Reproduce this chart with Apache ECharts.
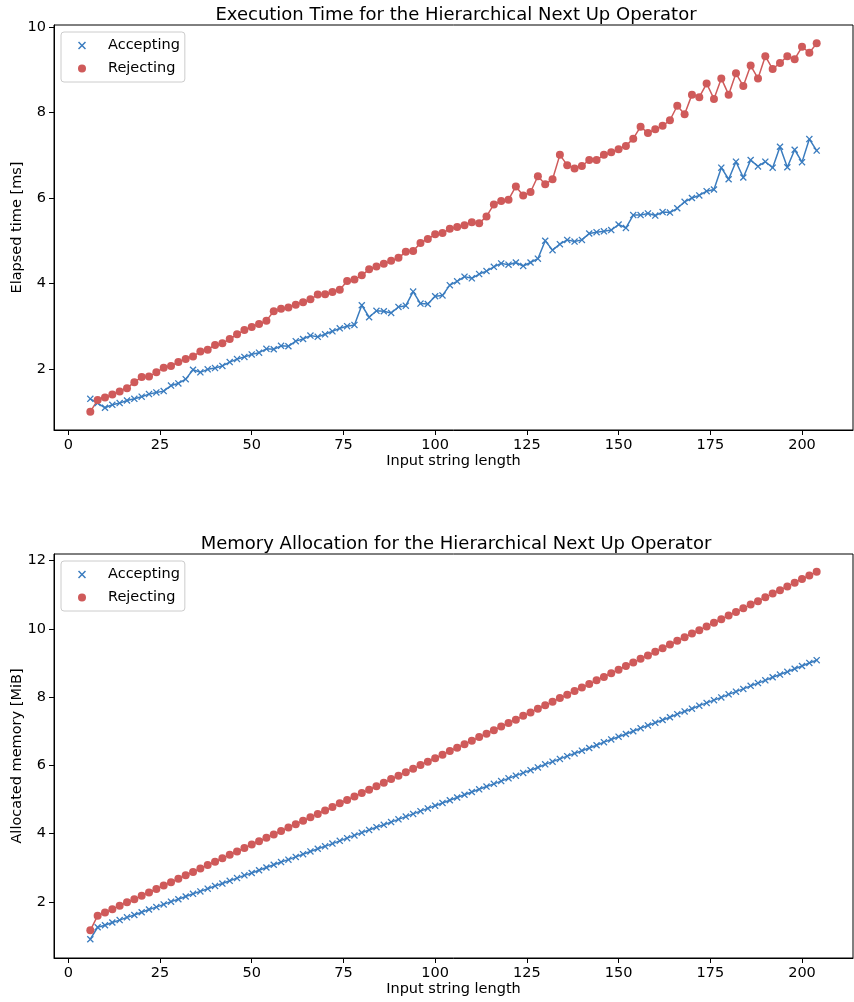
<!DOCTYPE html>
<html>
<head>
<meta charset="utf-8">
<script src="https://cdn.jsdelivr.net/npm/echarts@6/dist/echarts.min.js"></script>
<style>
  html, body { margin: 0; padding: 0; background: #fff; }
  #main { width: 854px; height: 1002px; }
</style>
</head>
<body>
<div id="main"></div>
<script>
// input string length (x)
var inputLength = [
  6, 8, 10, 12, 14, 16, 18, 20, 22, 24, 26, 28, 30, 32, 34, 36, 38, 40, 42, 44,
  46, 48, 50, 52, 54, 56, 58, 60, 62, 64, 66, 68, 70, 72, 74, 76, 78, 80, 82, 84,
  86, 88, 90, 92, 94, 96, 98, 100, 102, 104, 106, 108, 110, 112, 114, 116, 118, 120, 122, 124,
  126, 128, 130, 132, 134, 136, 138, 140, 142, 144, 146, 148, 150, 152, 154, 156, 158, 160, 162, 164,
  166, 168, 170, 172, 174, 176, 178, 180, 182, 184, 186, 188, 190, 192, 194, 196, 198, 200, 202, 204
];

// elapsed time [ms]
var timeAccepting = [
  1.30, 1.20, 1.09, 1.16, 1.20, 1.26, 1.30, 1.35, 1.41, 1.45, 1.48, 1.61, 1.66, 1.76, 1.98, 1.92, 1.99, 2.02, 2.07, 2.16,
  2.23, 2.28, 2.34, 2.38, 2.47, 2.46, 2.54, 2.53, 2.65, 2.70, 2.78, 2.75, 2.81, 2.88, 2.95, 3.00, 3.03, 3.49, 3.21, 3.36,
  3.35, 3.31, 3.45, 3.48, 3.81, 3.53, 3.52, 3.70, 3.72, 3.96, 4.05, 4.16, 4.12, 4.22, 4.29, 4.39, 4.47, 4.44, 4.49, 4.41,
  4.49, 4.58, 5.00, 4.78, 4.92, 5.02, 4.98, 5.02, 5.17, 5.20, 5.22, 5.25, 5.38, 5.30, 5.60, 5.60, 5.64, 5.59, 5.67, 5.66,
  5.76, 5.91, 6.00, 6.06, 6.16, 6.20, 6.71, 6.44, 6.85, 6.48, 6.89, 6.74, 6.85, 6.71, 7.20, 6.72, 7.13, 6.84, 7.38, 7.11
];
var timeRejecting = [
  1.00, 1.27, 1.33, 1.40, 1.47, 1.55, 1.69, 1.81, 1.82, 1.92, 2.03, 2.07, 2.16, 2.23, 2.29, 2.41, 2.45, 2.56, 2.60, 2.70,
  2.81, 2.91, 2.98, 3.05, 3.13, 3.35, 3.41, 3.44, 3.50, 3.56, 3.63, 3.74, 3.75, 3.80, 3.85, 4.06, 4.09, 4.19, 4.33, 4.40,
  4.46, 4.53, 4.60, 4.74, 4.76, 4.95, 5.04, 5.15, 5.18, 5.28, 5.32, 5.36, 5.43, 5.41, 5.57, 5.85, 5.93, 5.96, 6.27, 6.06,
  6.14, 6.51, 6.32, 6.44, 7.01, 6.77, 6.69, 6.75, 6.89, 6.89, 7.01, 7.07, 7.14, 7.22, 7.39, 7.67, 7.52, 7.61, 7.69, 7.82,
  8.16, 7.96, 8.42, 8.36, 8.68, 8.32, 8.80, 8.42, 8.92, 8.62, 9.10, 8.80, 9.32, 9.02, 9.16, 9.32, 9.25, 9.54, 9.40, 9.62
];

// allocated memory [MiB]
var memAccepting = [
  0.91, 1.26, 1.32, 1.40, 1.47, 1.55, 1.62, 1.70, 1.78, 1.85, 1.93, 2.01, 2.08, 2.16, 2.24, 2.31, 2.39, 2.47, 2.54, 2.62,
  2.70, 2.78, 2.85, 2.93, 3.01, 3.09, 3.17, 3.24, 3.32, 3.40, 3.48, 3.56, 3.63, 3.71, 3.79, 3.87, 3.95, 4.03, 4.11, 4.19,
  4.26, 4.34, 4.42, 4.50, 4.58, 4.66, 4.74, 4.82, 4.90, 4.98, 5.06, 5.14, 5.22, 5.30, 5.38, 5.46, 5.54, 5.62, 5.70, 5.78,
  5.86, 5.94, 6.03, 6.11, 6.19, 6.27, 6.35, 6.43, 6.51, 6.59, 6.68, 6.76, 6.84, 6.92, 7.00, 7.09, 7.17, 7.25, 7.33, 7.41,
  7.50, 7.58, 7.66, 7.75, 7.83, 7.91, 7.99, 8.08, 8.16, 8.24, 8.33, 8.41, 8.49, 8.58, 8.66, 8.74, 8.83, 8.91, 9.00, 9.08
];
var memRejecting = [
  1.17, 1.60, 1.69, 1.79, 1.89, 1.99, 2.08, 2.18, 2.28, 2.38, 2.48, 2.58, 2.68, 2.78, 2.88, 2.98, 3.08, 3.18, 3.28, 3.38,
  3.48, 3.58, 3.68, 3.78, 3.88, 3.98, 4.08, 4.18, 4.28, 4.38, 4.48, 4.58, 4.68, 4.78, 4.89, 4.99, 5.09, 5.19, 5.29, 5.39,
  5.49, 5.60, 5.70, 5.80, 5.90, 6.01, 6.11, 6.21, 6.31, 6.42, 6.52, 6.62, 6.72, 6.83, 6.93, 7.03, 7.14, 7.24, 7.34, 7.45,
  7.55, 7.66, 7.76, 7.86, 7.97, 8.07, 8.18, 8.28, 8.38, 8.49, 8.59, 8.70, 8.80, 8.91, 9.01, 9.12, 9.22, 9.33, 9.43, 9.54,
  9.65, 9.75, 9.86, 9.96, 10.07, 10.18, 10.28, 10.39, 10.49, 10.60, 10.71, 10.81, 10.92, 11.03, 11.13, 11.24, 11.35, 11.46, 11.56, 11.67
];

var xTicks = [0, 25, 50, 75, 100, 125, 150, 175, 200];
var timeTicks = [2, 4, 6, 8, 10];
var memTicks = [2, 4, 6, 8, 10, 12];

var blue = '#3a7cbf';
var red = '#cf5a5a';
var font = 'DejaVu Sans';
var crossIcon = 'path://M0,1.3L1.3,0L5,3.7L8.7,0L10,1.3L6.3,5L10,8.7L8.7,10L5,6.3L1.3,10L0,8.7L3.7,5Z';

function pairs(xs, ys) {
  return xs.map(function (x, i) { return [x, ys[i]]; });
}

function xAxisFor(idx) {
  return {
    type: 'value', gridIndex: idx, min: -3.9, max: 213.9,
    name: 'Input string length', nameLocation: 'middle', nameGap: 24, nameMoveOverlap: false,
    nameTextStyle: {fontFamily: font, fontSize: 14.5, color: '#000'},
    axisLine: {show: true, onZero: false, lineStyle: {color: '#000', width: 1}},
    axisTick: {show: true, length: 5, inside: false, customValues: xTicks, lineStyle: {color: '#000'}},
    axisLabel: {customValues: xTicks, margin: 8, fontFamily: font, fontSize: 14.5, color: '#000'},
    splitLine: {show: false}
  };
}

function yAxisFor(idx, name, min, max, ticks) {
  return {
    type: 'value', gridIndex: idx, min: min, max: max,
    name: name, nameLocation: 'middle', nameGap: 29, nameRotate: 90, nameMoveOverlap: false,
    nameTextStyle: {fontFamily: font, fontSize: 14.5, color: '#000'},
    axisLine: {show: true, onZero: false, lineStyle: {color: '#000', width: 1}},
    axisTick: {show: true, length: 5, inside: false, customValues: ticks, lineStyle: {color: '#000'}},
    axisLabel: {customValues: ticks, margin: 8, fontFamily: font, fontSize: 14.5, color: '#000'},
    splitLine: {show: false}
  };
}

function legendAt(top) {
  return {
    orient: 'vertical', left: 61, top: top,
    padding: [6, 5, 6, 17], itemGap: 8, itemWidth: 42, itemHeight: 8,
    backgroundColor: 'rgba(255,255,255,0.8)', borderColor: '#cccccc', borderWidth: 1, borderRadius: 3,
    textStyle: {fontFamily: font, fontSize: 14.5, color: '#000', lineHeight: 14},
    data: [{name: 'Accepting', icon: crossIcon}, {name: 'Rejecting', icon: 'circle'}]
  };
}

function series(name, idx, data, isCross) {
  return {
    name: name, type: 'line', xAxisIndex: idx, yAxisIndex: idx,
    data: data,
    symbol: isCross ? crossIcon : 'circle',
    symbolSize: isCross ? 7 : 8,
    showSymbol: true, showAllSymbol: true,
    lineStyle: {width: 1.5, color: isCross ? blue : red},
    itemStyle: {color: isCross ? blue : red},
    emphasis: {disabled: true},
    animation: false
  };
}

var chartDom = document.getElementById('main');
var myChart = echarts.init(chartDom, null, {renderer: 'canvas'});
var option = {
  backgroundColor: '#fff',
  animation: false,
  title: [
    {text: 'Execution Time for the Hierarchical Next Up Operator', left: 456, top: 6, padding: 0, textAlign: 'center',
      textStyle: {fontFamily: font, fontSize: 18, fontWeight: 'normal', color: '#000'}},
    {text: 'Memory Allocation for the Hierarchical Next Up Operator', left: 456, top: 535, padding: 0, textAlign: 'center',
      textStyle: {fontFamily: font, fontSize: 18, fontWeight: 'normal', color: '#000'}}
  ],
  legend: [legendAt(32), legendAt(561)],
  grid: [
    {left: 54, right: 1, top: 25, height: 405, show: true, borderColor: '#000', borderWidth: 1,
      containLabel: false, outerBoundsMode: 'none'},
    {left: 54, right: 1, top: 554, height: 404, show: true, borderColor: '#000', borderWidth: 1,
      containLabel: false, outerBoundsMode: 'none'}
  ],
  xAxis: [xAxisFor(0), xAxisFor(1)],
  yAxis: [
    yAxisFor(0, 'Elapsed time [ms]', 0.57, 10.05, timeTicks),
    yAxisFor(1, 'Allocated memory [MiB]', 0.36, 12.19, memTicks)
  ],
  series: [
    series('Accepting', 0, pairs(inputLength, timeAccepting), true),
    series('Rejecting', 0, pairs(inputLength, timeRejecting), false),
    series('Accepting', 1, pairs(inputLength, memAccepting), true),
    series('Rejecting', 1, pairs(inputLength, memRejecting), false)
  ]
};
option && myChart.setOption(option);
</script>
</body>
</html>
